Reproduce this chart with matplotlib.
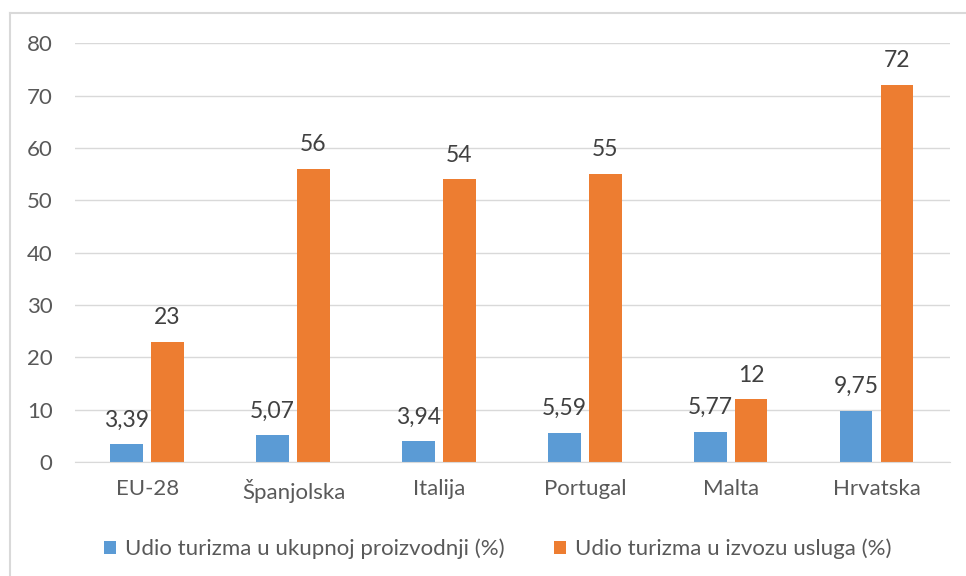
import matplotlib
matplotlib.use("Agg")
import matplotlib.pyplot as plt
from matplotlib.lines import Line2D
import numpy as np

# podaci
zemlje = ["EU-28", "Španjolska", "Italija", "Portugal", "Malta", "Hrvatska"]
proizvodnja = [3.39, 5.07, 3.94, 5.59, 5.77, 9.75]
izvoz = [23, 56, 54, 55, 12, 72]
proizvodnja_txt = ["3,39", "5,07", "3,94", "5,59", "5,77", "9,75"]
izvoz_txt = ["23", "56", "54", "55", "12", "72"]

plt.rcParams['font.family'] = ['Lato', 'DejaVu Sans']

fig = plt.figure(figsize=(9.66, 5.76), dpi=100)
ax = fig.add_axes([0.0776, 0.198, 0.906, 0.727])

x = np.arange(len(zemlje))
w = 0.225
b1 = ax.bar(x - 0.145, proizvodnja, w, color='#5B9BD5',
            label='Udio turizma u ukupnoj proizvodnji (%)')
b2 = ax.bar(x + 0.135, izvoz, w, color='#ED7D31',
            label='Udio turizma u izvozu usluga (%)')

for r, t in zip(b1, proizvodnja_txt):
    ax.text(r.get_x() + r.get_width() / 2, r.get_height() + 2.6, t,
            ha='center', va='bottom', fontsize=16.5, color='#404040')
for r, t in zip(b2, izvoz_txt):
    ax.text(r.get_x() + r.get_width() / 2, r.get_height() + 2.6, t,
            ha='center', va='bottom', fontsize=16.5, color='#404040')

ax.set_xlim(-0.5, len(zemlje) - 0.5)
ax.set_ylim(0, 80)
ax.set_yticks(range(0, 81, 10))
ax.set_xticks(x)
ax.set_xticklabels(zemlje)
ax.tick_params(axis='both', length=0, labelsize=16, colors='#595959')
ax.tick_params(axis='x', pad=12)
ax.tick_params(axis='y', pad=16)
ax.grid(axis='y', color='#D9D9D9', linewidth=1)
ax.set_axisbelow(True)
for s in ['top', 'right', 'left']:
    ax.spines[s].set_visible(False)
ax.spines['bottom'].set_color('#D9D9D9')

ax.legend(loc='upper center', bbox_to_anchor=(0.483, -0.135), ncol=2, frameon=False,
          fontsize=16, labelcolor='#595959', handlelength=0.55, handleheight=0.55,
          columnspacing=2.2, handletextpad=0.4)

# okvir oko slike (vidljiv samo lijevo i gore)
fig.add_artist(Line2D([9.5 / 966, 9.5 / 966], [0, 1 - 13 / 576], transform=fig.transFigure,
                      color='#D9D9D9', linewidth=1.5))
fig.add_artist(Line2D([9.5 / 966, 1], [1 - 13 / 576, 1 - 13 / 576], transform=fig.transFigure,
                      color='#D9D9D9', linewidth=1.5))

fig.savefig("out.png", dpi=100)
